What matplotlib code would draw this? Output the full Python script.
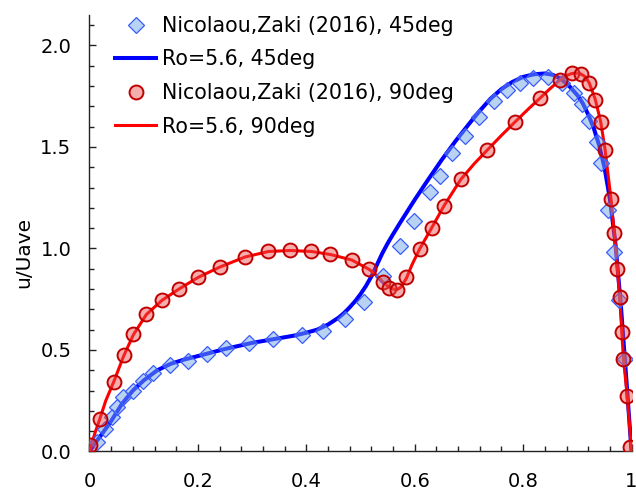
import matplotlib
matplotlib.use("Agg")
import matplotlib.pyplot as plt
from matplotlib.ticker import MultipleLocator, FixedLocator

plt.rcParams['font.family'] = ['DejaVu Sans']

# Nicolaou, Zaki (2016), 45deg  (diamonds)
nz45_x = [0.013, 0.029, 0.042, 0.051, 0.062, 0.081, 0.098, 0.118, 0.149, 0.181,
          0.216, 0.252, 0.295, 0.339, 0.392, 0.431, 0.471, 0.507, 0.541, 0.572,
          0.598, 0.628, 0.647, 0.668, 0.693, 0.719, 0.746, 0.771, 0.794, 0.819,
          0.846, 0.872, 0.893, 0.909, 0.921, 0.937, 0.943, 0.957, 0.968, 0.976, 0.987]
nz45_y = [0.048, 0.111, 0.168, 0.218, 0.270, 0.300, 0.349, 0.385, 0.426, 0.447,
          0.480, 0.508, 0.533, 0.553, 0.572, 0.594, 0.654, 0.736, 0.865, 1.013,
          1.136, 1.279, 1.355, 1.469, 1.554, 1.646, 1.728, 1.781, 1.814, 1.838,
          1.846, 1.814, 1.765, 1.711, 1.627, 1.526, 1.420, 1.190, 0.984, 0.746, 0.456]

# Ro=5.6, 45deg (line)
ro45_x = [0.0, 0.01, 0.02, 0.04, 0.06, 0.08, 0.10, 0.125, 0.15, 0.175, 0.20, 0.25,
          0.30, 0.35, 0.38, 0.40, 0.42, 0.44, 0.46, 0.47, 0.48, 0.49, 0.50, 0.51,
          0.52, 0.53, 0.54, 0.55, 0.56, 0.575, 0.60, 0.625, 0.65, 0.675, 0.70, 0.72,
          0.74, 0.76, 0.78, 0.80, 0.82, 0.84, 0.855, 0.87, 0.885, 0.90, 0.91, 0.92,
          0.93, 0.94, 0.95, 0.96, 0.97, 0.98, 0.99, 1.0]
ro45_y = [0.0, 0.04, 0.075, 0.15, 0.235, 0.30, 0.35, 0.40, 0.432, 0.453, 0.47, 0.505,
          0.535, 0.558, 0.572, 0.585, 0.60, 0.625, 0.66, 0.683, 0.71, 0.74, 0.775, 0.815,
          0.862, 0.918, 0.975, 1.025, 1.07, 1.135, 1.24, 1.34, 1.437, 1.528, 1.613, 1.678,
          1.738, 1.785, 1.82, 1.845, 1.858, 1.862, 1.855, 1.835, 1.80, 1.755, 1.715, 1.66,
          1.595, 1.51, 1.40, 1.245, 1.03, 0.73, 0.37, 0.0]

# Nicolaou, Zaki (2016), 90deg (circles)
nz90_x = [0.001, 0.019, 0.045, 0.063, 0.081, 0.105, 0.134, 0.165, 0.201, 0.241,
          0.287, 0.330, 0.369, 0.409, 0.444, 0.484, 0.516, 0.541, 0.553, 0.567,
          0.584, 0.609, 0.631, 0.654, 0.685, 0.734, 0.785, 0.831, 0.868, 0.890,
          0.906, 0.922, 0.933, 0.943, 0.951, 0.962, 0.968, 0.974, 0.978, 0.982,
          0.985, 0.992, 0.997]
nz90_y = [0.032, 0.160, 0.344, 0.474, 0.580, 0.676, 0.745, 0.799, 0.858, 0.909,
          0.960, 0.986, 0.991, 0.988, 0.973, 0.945, 0.897, 0.835, 0.807, 0.797,
          0.858, 0.996, 1.100, 1.211, 1.341, 1.485, 1.623, 1.740, 1.830, 1.863,
          1.860, 1.814, 1.732, 1.622, 1.485, 1.242, 1.078, 0.899, 0.763, 0.587,
          0.456, 0.275, 0.024]

# Ro=5.6, 90deg (line)
ro90_x = [0.0, 0.01, 0.019, 0.03, 0.045, 0.063, 0.081, 0.105, 0.134, 0.165, 0.20,
          0.24, 0.287, 0.33, 0.37, 0.41, 0.445, 0.484, 0.516, 0.53, 0.54, 0.55, 0.56,
          0.567, 0.575, 0.585, 0.595, 0.609, 0.631, 0.654, 0.685, 0.71, 0.734, 0.76,
          0.785, 0.81, 0.831, 0.85, 0.868, 0.88, 0.89, 0.9, 0.906, 0.915, 0.922, 0.933,
          0.943, 0.951, 0.962, 0.968, 0.974, 0.978, 0.982, 0.985, 0.992, 1.0]
ro90_y = [0.0, 0.09, 0.16, 0.25, 0.345, 0.47, 0.575, 0.675, 0.745, 0.80, 0.857,
          0.908, 0.958, 0.985, 0.99, 0.985, 0.97, 0.943, 0.897, 0.866, 0.838, 0.815, 0.80,
          0.797, 0.81, 0.855, 0.92, 0.997, 1.10, 1.21, 1.34, 1.418, 1.485, 1.557,
          1.623, 1.688, 1.74, 1.788, 1.83, 1.852, 1.862, 1.864, 1.86, 1.845, 1.815, 1.735,
          1.625, 1.49, 1.245, 1.08, 0.90, 0.765, 0.59, 0.457, 0.276, 0.0]

x_ticks = [0, 0.2, 0.4, 0.6, 0.8, 1.0]
x_ticklabels = ['0', '0.2', '0.4', '0.6', '0.8', '1']
y_ticks = [0.0, 0.5, 1.0, 1.5, 2.0]
y_ticklabels = ['0.0', '0.5', '1.0', '1.5', '2.0']

fig = plt.figure(figsize=(6.36, 4.93), dpi=100)
ax = fig.add_axes([0.1407, 0.0842, 0.8523, 0.8854])

ax.plot(nz45_x, nz45_y, linestyle='none', marker='D', markersize=8.5,
        mfc=(0.45, 0.65, 0.90, 0.5), mec='#3a5cff', mew=0.9,
        label='Nicolaou,Zaki (2016), 45deg', zorder=4)
ax.plot(ro45_x, ro45_y, color='#0000ff', lw=2.9, label='Ro=5.6, 45deg', zorder=2,
        solid_joinstyle='round')
ax.plot(nz90_x, nz90_y, linestyle='none', marker='o', markersize=10,
        mfc=(0.92, 0.30, 0.30, 0.45), mec='#c00000', mew=1.4,
        label='Nicolaou,Zaki (2016), 90deg', zorder=5)
ax.plot(ro90_x, ro90_y, color='#ff0000', lw=2.2, label='Ro=5.6, 90deg', zorder=3,
        solid_joinstyle='round')

ax.set_xlim(0, 1)
ax.set_ylim(0, 2.15)
ax.xaxis.set_major_locator(FixedLocator(x_ticks))
ax.set_xticklabels(x_ticklabels)
ax.yaxis.set_major_locator(FixedLocator(y_ticks))
ax.set_yticklabels(y_ticklabels)
ax.xaxis.set_minor_locator(MultipleLocator(0.04))
ax.yaxis.set_minor_locator(MultipleLocator(0.1))

for s in ['top', 'right']:
    ax.spines[s].set_visible(False)
for s in ['left', 'bottom']:
    ax.spines[s].set_linewidth(1.0)
    ax.spines[s].set_color('#222222')

ax.tick_params(which='major', direction='in', length=5, width=1.0, labelsize=14,
               color='#222222')
ax.tick_params(which='minor', direction='in', length=3.5, width=1.0, color='#222222')
ax.tick_params(axis='x', which='major', pad=15)
ax.tick_params(axis='y', which='major', pad=13)

ax.set_ylabel('u/Uave', fontsize=14.5)
ax.yaxis.set_label_coords(-0.104, 0.455)

leg = ax.legend(loc='upper left', bbox_to_anchor=(0.047, 0.998), frameon=False,
                fontsize=14.8, handlelength=2.0, handletextpad=0.3, labelspacing=0.66,
                borderpad=0, borderaxespad=0)

fig.savefig('out.png', dpi=100)
